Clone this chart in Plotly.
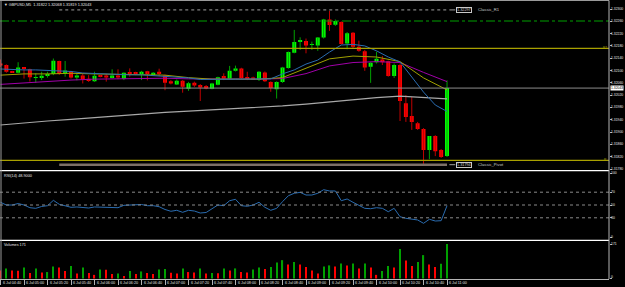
import plotly.graph_objects as go

# ---------------- data ----------------
symbol = "GBPUSD,M5"
time_labels = ["6 Jul 04:40", "6 Jul 05:00", "6 Jul 05:20", "6 Jul 05:40", "6 Jul 06:00",
               "6 Jul 06:20", "6 Jul 06:40", "6 Jul 07:00", "6 Jul 07:20", "6 Jul 07:40",
               "6 Jul 08:00", "6 Jul 08:20", "6 Jul 08:40", "6 Jul 09:00", "6 Jul 09:20",
               "6 Jul 09:40", "6 Jul 10:00", "6 Jul 10:20", "6 Jul 10:40", "6 Jul 11:00"]

opens = [1.32123, 1.32118, 1.32098, 1.32093, 1.32109, 1.32104, 1.32076, 1.32077, 1.32083, 1.32089,
         1.32131, 1.32095, 1.32098, 1.32077, 1.32084, 1.32073, 1.32065, 1.32084, 1.32084, 1.32078,
         1.32084, 1.32073, 1.32093, 1.32093, 1.32089, 1.32098, 1.32087, 1.32096, 1.32084, 1.32065,
         1.32055, 1.32067, 1.32041, 1.32060, 1.32053, 1.32050, 1.32041, 1.32054, 1.32082, 1.32073,
         1.32099, 1.32107, 1.32078, 1.32077, 1.32069, 1.32094, 1.32063, 1.32039, 1.32063, 1.32108,
         1.32158, 1.32193, 1.32196, 1.32183, 1.32181, 1.32207, 1.32266, 1.32249, 1.32258, 1.32188,
         1.32223, 1.32177, 1.32163, 1.32112, 1.32127, 1.32136, 1.32130, 1.32082, 1.32118, 1.31994,
         1.31952, 1.31929, 1.31910, 1.31842, 1.31887, 1.31842, 1.31822]
highs = [1.32136, 1.32120, 1.32099, 1.32127, 1.32110, 1.32106, 1.32091, 1.32096, 1.32096, 1.32139,
         1.32132, 1.32131, 1.32099, 1.32089, 1.32089, 1.32085, 1.32096, 1.32086, 1.32089, 1.32104,
         1.32104, 1.32094, 1.32107, 1.32096, 1.32099, 1.32099, 1.32095, 1.32106, 1.32086, 1.32069,
         1.32071, 1.32069, 1.32063, 1.32064, 1.32056, 1.32053, 1.32060, 1.32080, 1.32091, 1.32115,
         1.32116, 1.32109, 1.32096, 1.32080, 1.32098, 1.32097, 1.32065, 1.32065, 1.32112, 1.32162,
         1.32232, 1.32208, 1.32204, 1.32194, 1.32209, 1.32268, 1.32294, 1.32266, 1.32260, 1.32225,
         1.32225, 1.32197, 1.32167, 1.32127, 1.32161, 1.32147, 1.32132, 1.32123, 1.32123, 1.32020,
         1.32014, 1.31933, 1.31913, 1.31887, 1.31890, 1.31845, 1.32068]
lows = [1.32112, 1.32093, 1.32092, 1.32091, 1.32074, 1.32064, 1.32060, 1.32069, 1.32077, 1.32085,
        1.32086, 1.32080, 1.32074, 1.32068, 1.32058, 1.32063, 1.32063, 1.32078, 1.32064, 1.32074,
        1.32072, 1.32069, 1.32080, 1.32085, 1.32069, 1.32068, 1.32084, 1.32082, 1.32036, 1.32055,
        1.32053, 1.32028, 1.32034, 1.32047, 1.32001, 1.32039, 1.32039, 1.32052, 1.32069, 1.32071,
        1.32097, 1.32073, 1.32069, 1.32071, 1.32066, 1.32063, 1.32031, 1.32009, 1.32060, 1.32106,
        1.32156, 1.32167, 1.32156, 1.32167, 1.32164, 1.32204, 1.32229, 1.32245, 1.32184, 1.32169,
        1.32171, 1.32161, 1.32099, 1.32060, 1.32123, 1.32118, 1.32080, 1.32076, 1.31936, 1.31933,
        1.31907, 1.31907, 1.31790, 1.31812, 1.31822, 1.31816, 1.31819]
closes = [1.32116, 1.32096, 1.32093, 1.32110, 1.32105, 1.32078, 1.32079, 1.32083, 1.32089, 1.32132,
          1.32089, 1.32100, 1.32077, 1.32084, 1.32071, 1.32067, 1.32083, 1.32081, 1.32077, 1.32084,
          1.32077, 1.32093, 1.32090, 1.32090, 1.32096, 1.32089, 1.32093, 1.32089, 1.32060, 1.32058,
          1.32067, 1.32047, 1.32059, 1.32051, 1.32045, 1.32042, 1.32058, 1.32078, 1.32073, 1.32099,
          1.32107, 1.32076, 1.32073, 1.32072, 1.32096, 1.32065, 1.32043, 1.32063, 1.32110, 1.32160,
          1.32193, 1.32197, 1.32181, 1.32186, 1.32207, 1.32266, 1.32248, 1.32261, 1.32186, 1.32221,
          1.32177, 1.32164, 1.32110, 1.32125, 1.32138, 1.32127, 1.32082, 1.32118, 1.32001, 1.31949,
          1.31933, 1.31910, 1.31842, 1.31887, 1.31838, 1.31819, 1.32043]

# moving averages (fast sampled every 2 bars, the others every 4 bars)
ma_fast = [1.32105, 1.32103, 1.32102, 1.32102, 1.32100, 1.32099, 1.32097, 1.32092, 1.32090, 1.32089,
           1.32087, 1.32086, 1.32086, 1.32084, 1.32082, 1.32079, 1.32076, 1.32071, 1.32071, 1.32071,
           1.32073, 1.32071, 1.32071, 1.32073, 1.32089, 1.32102, 1.32121, 1.32134, 1.32160, 1.32183,
           1.32185, 1.32180, 1.32164, 1.32144, 1.32128, 1.32079, 1.32030, 1.31988, 1.31967]
ma_mid = [1.32085, 1.32089, 1.32089, 1.32091, 1.32089, 1.32088, 1.32086, 1.32085, 1.32077, 1.32072,
          1.32072, 1.32072, 1.32077, 1.32107, 1.32138, 1.32147, 1.32144, 1.32129, 1.32076, 1.32037]
ma_slow = [1.32055, 1.32060, 1.32065, 1.32069, 1.32072, 1.32073, 1.32074, 1.32075, 1.32073, 1.32072,
           1.32072, 1.32072, 1.32074, 1.32090, 1.32115, 1.32126, 1.32129, 1.32126, 1.32094, 1.32064]
ma_long = [1.31923, 1.31930, 1.31936, 1.31941, 1.31947, 1.31954, 1.31960, 1.31964, 1.31968, 1.31972,
           1.31975, 1.31979, 1.31985, 1.31991, 1.31998, 1.32006, 1.32012, 1.32017, 1.32012, 1.32008]

rsi = [54.2, 50.0, 50.0, 52.3, 50.0, 45.8, 44.8, 47.7, 48.9, 57.3,
       51.1, 48.4, 46.4, 46.9, 46.1, 45.3, 46.9, 46.9, 46.9, 46.9,
       45.8, 49.5, 50.0, 50.0, 50.8, 48.9, 48.9, 47.3, 43.0, 40.2,
       41.7, 38.6, 41.7, 40.6, 37.5, 38.3, 43.8, 50.0, 48.9, 56.7,
       58.9, 48.9, 48.0, 50.0, 54.2, 46.4, 41.7, 44.8, 55.2, 64.5,
       68.3, 69.8, 65.6, 65.6, 68.3, 73.9, 71.9, 71.9, 56.7, 59.4,
       54.2, 50.0, 44.8, 44.2, 45.8, 44.8, 39.5, 44.8, 31.7, 29.2,
       27.7, 26.6, 21.4, 27.7, 25.0, 25.5, 48.9]
volumes = [40, 49, 40, 39, 54, 27, 49, 30, 32, 60,
           54, 37, 62, 25, 54, 27, 18, 45, 44, 22,
           25, 13, 37, 22, 35, 27, 22, 45, 47, 29,
           25, 49, 32, 30, 50, 25, 27, 26, 50, 40,
           50, 32, 30, 45, 54, 47, 57, 79, 91, 70,
           82, 70, 57, 40, 25, 60, 65, 60, 75, 65,
           75, 49, 75, 54, 18, 37, 62, 54, 146, 89,
           62, 82, 116, 70, 57, 73, 171]

price_ticks = [1.32300, 1.32260, 1.32220, 1.32180, 1.32140, 1.32100, 1.32060,
               1.32020, 1.31980, 1.31940, 1.31900, 1.31860, 1.31820, 1.31780]
rsi_ticks = [0, 30, 50, 70, 100]
rsi_levels = [30, 50, 70]

classic_r1 = 1.32297
green_level = 1.32261
yellow_upper = 1.32172
yellow_lower = 1.31808
classic_pivot = 1.31794
pivot_start_bar = 10

# ---------------- geometry helpers ----------------
W, H = 625, 287
PLOT_W = 609


def xp(px):
    return px / PLOT_W


def yp(py):
    return (H - py) / H


n = len(opens)
idx = list(range(n))
up = [c >= o for o, c in zip(opens, closes)]

BULL, BEAR = "#00ff00", "#ff0000"
WICK_BULL, WICK_BEAR = "#00a000", "#c00000"
FONT = "Liberation Sans"
LBL = dict(family=FONT, size=3.8, color="#e6e6e6")
SCL = dict(family=FONT, size=3.4, color="#e6e6e6")

fig = go.Figure()

# wicks
for flag, col in ((True, WICK_BULL), (False, WICK_BEAR)):
    wx, wy = [], []
    for i in idx:
        if up[i] == flag:
            wx += [i, i, None]
            wy += [lows[i], highs[i], None]
    fig.add_trace(go.Scatter(x=wx, y=wy, mode="lines", line=dict(color=col, width=1),
                             xaxis="x", yaxis="y", hoverinfo="skip", showlegend=False))

# bodies
min_h = 0.00003
fig.add_trace(go.Bar(
    x=idx,
    y=[max(abs(c - o), min_h) for o, c in zip(opens, closes)],
    base=[min(o, c) for o, c in zip(opens, closes)],
    width=0.68,
    marker=dict(color=[BULL if u else BEAR for u in up], line=dict(width=0)),
    xaxis="x", yaxis="y", hoverinfo="skip", showlegend=False))

# moving averages
fast_idx = list(range(0, n, 2))
slow_idx = list(range(0, n, 4))
for xs, vals, col, w in ((slow_idx, ma_long, "#a8a8a8", 1.2),
                         (slow_idx, ma_slow, "#a000a8", 1),
                         (slow_idx, ma_mid, "#a0a000", 1),
                         (fast_idx, ma_fast, "#2a6cb0", 1)):
    fig.add_trace(go.Scatter(x=xs, y=vals, mode="lines", line=dict(color=col, width=w),
                             xaxis="x", yaxis="y", hoverinfo="skip", showlegend=False))

# RSI
fig.add_trace(go.Scatter(x=idx, y=rsi, mode="lines", line=dict(color="#2a6cb0", width=1),
                         xaxis="x", yaxis="y2", hoverinfo="skip", showlegend=False))

# Volumes
vcol = ["#ff0000"] + ["#00a000" if volumes[i] > volumes[i - 1] else "#ff0000" for i in range(1, n)]
fig.add_trace(go.Bar(x=idx, y=volumes, width=0.2, marker=dict(color=vcol, line=dict(width=0)),
                     xaxis="x", yaxis="y3", hoverinfo="skip", showlegend=False))

# ---------------- shapes ----------------
shapes = []
shapes.append(dict(type="line", xref="x", yref="y", x0=pivot_start_bar, x1=n - 1,
                   y0=classic_r1, y1=classic_r1, line=dict(color="#a0a0a0", width=1, dash="dot")))
shapes.append(dict(type="line", xref="paper", yref="y", x0=0, x1=1,
                   y0=green_level, y1=green_level, line=dict(color="#00a000", width=1, dash="dashdot")))
shapes.append(dict(type="line", xref="paper", yref="y", x0=0, x1=1,
                   y0=yellow_upper, y1=yellow_upper, line=dict(color="#a8a000", width=1.3)))
shapes.append(dict(type="line", xref="paper", yref="y", x0=0, x1=1,
                   y0=closes[-1], y1=closes[-1], line=dict(color="#8c8c8c", width=1)))
shapes.append(dict(type="line", xref="paper", yref="y", x0=0, x1=1,
                   y0=yellow_lower, y1=yellow_lower, line=dict(color="#a8a000", width=1.3)))
shapes.append(dict(type="line", xref="x", yref="y", x0=pivot_start_bar, x1=n - 1,
                   y0=classic_pivot, y1=classic_pivot, line=dict(color="#7c7068", width=2.5)))
for lvl in (classic_r1, classic_pivot):
    shapes.append(dict(type="line", xref="x", yref="y", x0=n - 0.6, x1=n + 0.4,
                       y0=lvl, y1=lvl, line=dict(color="#a0a0a0", width=1)))
for lvl in rsi_levels:
    shapes.append(dict(type="line", xref="paper", yref="y2", x0=0, x1=1, y0=lvl, y1=lvl,
                       line=dict(color="#8a8a8a", width=1, dash="dot")))
for py in (170.7, 240.3):
    shapes.append(dict(type="line", xref="paper", yref="paper", x0=0, x1=1, y0=yp(py), y1=yp(py),
                       line=dict(color="#ffffff", width=1.2)))
shapes.append(dict(type="line", xref="paper", yref="paper", x0=xp(1), x1=xp(1), y0=yp(279), y1=yp(0.5),
                   line=dict(color="#9a9a9a", width=1)))
shapes.append(dict(type="line", xref="paper", yref="paper", x0=0, x1=1, y0=yp(0.5), y1=yp(0.5),
                   line=dict(color="#9a9a9a", width=1)))
shapes.append(dict(type="line", xref="paper", yref="paper", x0=1, x1=1, y0=yp(279), y1=yp(0.5),
                   line=dict(color="#b4b4b4", width=1)))

# ---------------- annotations ----------------
ann = []
ann.append(dict(xref="paper", yref="paper", x=xp(2), y=yp(5), xanchor="left", yanchor="middle",
                text="▼ %s  %.5f %.5f %.5f %.5f" % (symbol, opens[-1], highs[-1], lows[-1], closes[-1]),
                showarrow=False, font=LBL))
ann.append(dict(xref="paper", yref="paper", x=xp(2), y=yp(176), xanchor="left", yanchor="middle",
                text="RSI(14) %.4f" % rsi[-1], showarrow=False, font=LBL))
ann.append(dict(xref="paper", yref="paper", x=xp(2), y=yp(245), xanchor="left", yanchor="middle",
                text="Volumes %d" % volumes[-1], showarrow=False, font=LBL))

# right-hand scale labels
for v in price_ticks:
    ann.append(dict(xref="paper", yref="y", x=1, y=v, xanchor="left", yanchor="middle", xshift=1,
                    borderpad=0, text="%.5f" % v, showarrow=False, font=SCL))
for v in rsi_ticks:
    ann.append(dict(xref="paper", yref="y2", x=1, y=v, xanchor="left", yanchor="middle", xshift=1,
                    borderpad=0, text=str(v), showarrow=False, font=SCL))
for v in (0, max(volumes)):
    ann.append(dict(xref="paper", yref="y3", x=1, y=v, xanchor="left", yanchor="middle", xshift=1,
                    borderpad=0, yshift=2 if v == 0 else 0, text=str(v), showarrow=False, font=SCL))
ann.append(dict(xref="paper", yref="y", x=1, y=closes[-1], xanchor="left", yanchor="middle", xshift=1,
                text="%.5f" % closes[-1], showarrow=False, bgcolor="#ffffff", borderpad=0,
                font=dict(family=FONT, size=3.4, color="#000000")))
for lvl, name in ((classic_r1, "Classic_R1"), (classic_pivot, "Classic_Pivot")):
    ann.append(dict(xref="x", yref="y", x=n + 0.6, y=lvl, xanchor="left", yanchor="middle",
                    text="%.5f" % lvl, showarrow=False, bgcolor="#000000", bordercolor="#c8c8c8",
                    borderwidth=1, borderpad=0, font=dict(family=FONT, size=3.8, color="#d0d0d0")))
    ann.append(dict(xref="x", yref="y", x=n + 3.9, y=lvl, xanchor="left", yanchor="middle",
                    text=name, showarrow=False, font=dict(family=FONT, size=4.2, color="#c8c8c8")))
for lvl, name in ((yellow_upper, "R1"), (yellow_lower, "P")):
    ann.append(dict(xref="paper", yref="y", x=1, y=lvl, xanchor="right", yanchor="middle", xshift=-1,
                    borderpad=0, text=name, showarrow=False,
                    font=dict(family=FONT, size=3.4, color="#a8a000")))
# time labels
for k, t in enumerate(time_labels):
    ann.append(dict(xref="x", yref="paper", x=4 * k, y=yp(283), xanchor="left", yanchor="middle",
                    xshift=1, borderpad=0, text=t, showarrow=False,
                    font=dict(family=FONT, size=3.7, color="#e0e0e0")))

axis_common = dict(showgrid=False, zeroline=False, showline=False,
                   ticks="outside", ticklen=2, tickcolor="#b4b4b4", showticklabels=False,
                   fixedrange=True)

fig.update_layout(
    width=W, height=H,
    margin=dict(l=0, r=W - PLOT_W, t=0, b=0, autoexpand=False),
    paper_bgcolor="#000000", plot_bgcolor="#000000",
    barmode="overlay", showlegend=False,
    shapes=shapes, annotations=ann,
    xaxis=dict(anchor="y3", range=[-0.085, 103.57], showgrid=False, zeroline=False,
               showline=True, linecolor="#b4b4b4", ticks="outside", ticklen=5, tickcolor="#b4b4b4",
               tickvals=list(range(0, n, 4)), showticklabels=False),
    yaxis=dict(axis_common, anchor="x", side="right", domain=[yp(170.5), yp(1)],
               range=[1.3177513, 1.3232600], tickvals=price_ticks),
    yaxis2=dict(axis_common, anchor="x", side="right", domain=[yp(239.5), yp(171.5)],
                range=[-3.9, 102.34], tickvals=rsi_ticks),
    yaxis3=dict(axis_common, anchor="x", side="right", domain=[yp(279), yp(241)],
                range=[-2.5, 186], tickvals=[0, max(volumes)]),
)

fig.write_html("out.html")
